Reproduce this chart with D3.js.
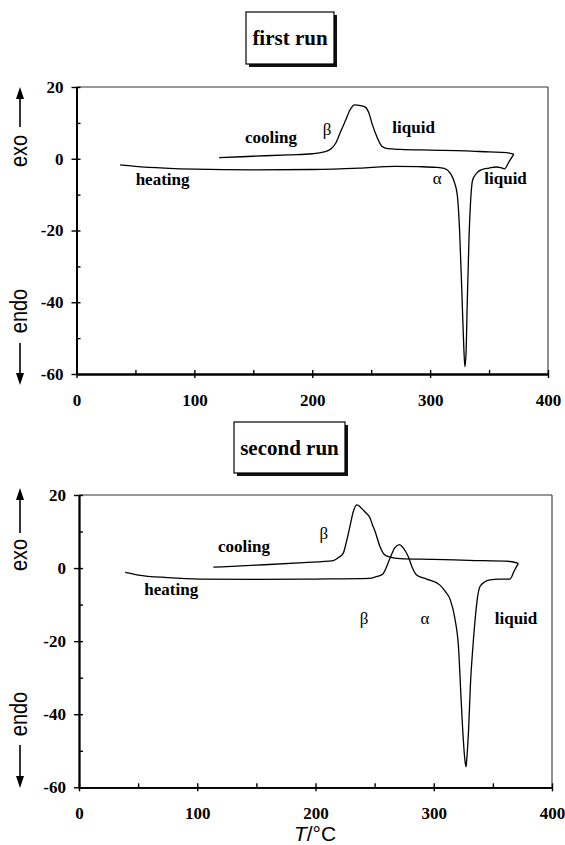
<!DOCTYPE html>
<html><head><meta charset="utf-8">
<script src="https://cdn.jsdelivr.net/npm/d3@7"></script>
<style>
body{margin:0;background:#fff;}
svg{display:block;}
.tick text{font-family:"Liberation Serif","Times New Roman",serif;font-weight:bold;font-size:17px;fill:#000;}
</style></head>
<body><svg id="c" width="565" height="845"></svg>
<script>
// ---------- data ----------
const xMajorTicks = [0, 100, 200, 300, 400];
const xMinorTicks = [50, 150, 250, 350];
const yMajorTicks = [20, 0, -20, -40, -60];
const yMinorTicks = [10, -10, -30, -50];
const panelTitles = ["first run", "second run"];

// first run: [T (°C), heat flow]
const run1Heating = [[37,-1.7],[50,-2.1],[75,-2.6],[100,-2.9],[150,-3.1],[200,-3.0],[240,-2.6],[270,-2.1],[290,-2.2],[305,-2.4],[312,-2.7],[317,-4],[320,-6],[323,-10],[325,-20],[327,-38],[328.5,-52],[329.5,-58],[330.5,-54],[331.5,-40],[333,-22],[334.5,-11],[336,-6],[339.5,-4],[344,-3],[350,-2.6],[356,-2.3],[360,-2.5],[363,-2.8],[367,-0.8],[371,1.3]];
const run1Cooling = [[121,0.3],[150,0.7],[180,1.1],[200,1.4],[210,1.9],[216,2.8],[220,4.4],[224,7.5],[228,10.5],[232,13.6],[236,15],[241,14.8],[245,14.4],[248,12.8],[251,9.5],[255,6],[259,3.5],[264,2.8],[275,2.6],[300,2.4],[330,2.2],[350,1.9],[365,1.7],[371,1.3]];

// second run
const run2Heating = [[39,-1.2],[50,-1.9],[75,-2.6],[102,-3.0],[150,-3.1],[200,-3.0],[246,-2.8],[252,-2.3],[257,-1.6],[263,2.7],[267,5.5],[271,6.4],[274,5.6],[278.5,3.1],[282,0],[285.5,-1.9],[294,-3.0],[305,-4.6],[310,-6.5],[314,-8.7],[318,-14],[321,-22],[323,-35],[325,-47],[326.5,-53],[327.3,-54.4],[328,-52],[329.5,-44],[331,-32],[333,-22],[335,-14],[337,-8],[339,-5.1],[343,-3.8],[347.6,-3.2],[355,-3.0],[364.5,-3.0],[368,-0.8],[371.5,1.3]];
const run2Cooling = [[113.6,0.24],[150,0.8],[190,1.5],[215,2.05],[220,3.0],[223.5,4.1],[226,7],[229,11.2],[232,15.5],[235,17.3],[237.6,16.8],[240,16],[243,15],[246,13.8],[248,12],[250.4,10],[254.5,5.9],[258,3.8],[263,3.0],[271.5,2.6],[300,2.4],[330,2.1],[364.5,1.8],[371.5,1.3]];

// annotations: [text, T, value (baseline), bold]
const run1Labels = [["cooling",165,4.4,true],["β",212.5,6.6,false],["liquid",286,7.2,true],["heating",73,-7.2,true],["α",306,-7,false],["liquid",364,-7,true]];
const run2Labels = [["cooling",139.5,4.5,true],["β",207,8,false],["heating",78,-7.5,true],["β",241,-15.4,false],["α",292.6,-15.4,false],["liquid",369.6,-15.4,true]];

// ---------- drawing ----------
const svg = d3.select("#c");

function drawArrow(g, x, y1, y2) {
  const dir = y2 < y1 ? -1 : 1;
  g.append("line").attr("x1", x).attr("x2", x).attr("y1", y1).attr("y2", y2 - dir*8)
    .attr("stroke", "#000").attr("stroke-width", 1.6);
  g.append("path").attr("d", `M${x},${y2} L${x-4},${y2-dir*12} L${x+4},${y2-dir*12} Z`).attr("fill", "#000");
}

function panel(cfg) {
  const x = d3.scaleLinear().domain([0, 400]).range([cfg.x0, cfg.x1]);
  const y = d3.scaleLinear().domain([-60, 20]).range([cfg.yb, cfg.yt]);
  const g = svg.append("g");

  // title box with shadow
  const b = cfg.box;
  g.append("rect").attr("x", b[0]+3).attr("y", b[1]+3).attr("width", b[2]).attr("height", b[3]).attr("fill", "#111");
  g.append("rect").attr("x", b[0]).attr("y", b[1]).attr("width", b[2]).attr("height", b[3])
    .attr("fill", "#fff").attr("stroke", "#000").attr("stroke-width", 1.2);
  g.append("text").attr("x", b[0]+b[2]/2).attr("y", b[1]+b[3]/2+7).attr("text-anchor", "middle")
    .attr("font-family", "Liberation Serif, Times New Roman, serif").attr("font-weight", "bold")
    .attr("font-size", 21).text(cfg.title);

  // frame top/right
  g.append("line").attr("x1", x(0)).attr("x2", x(400)).attr("y1", y(20)).attr("y2", y(20)).attr("stroke", "#333").attr("stroke-width", 1.1);
  g.append("line").attr("x1", x(400)).attr("x2", x(400)).attr("y1", y(20)).attr("y2", y(-60)).attr("stroke", "#333").attr("stroke-width", 1.1);

  const fmt = d => String(d);
  const ya = g.append("g").attr("transform", `translate(${x(0)},0)`)
    .call(d3.axisLeft(y).tickValues(yMajorTicks).tickSizeInner(5).tickSizeOuter(0).tickPadding(8).tickFormat(fmt));
  const yb = g.append("g").attr("transform", `translate(${x(0)},0)`)
    .call(d3.axisRight(y).tickValues(yMajorTicks.concat(yMinorTicks)).tickSizeInner(4).tickSizeOuter(0).tickFormat(""));
  const xa = g.append("g").attr("transform", `translate(0,${y(-60)})`)
    .call(d3.axisBottom(x).tickValues(xMajorTicks).tickSizeInner(4).tickSizeOuter(0).tickPadding(16).tickFormat(fmt));
  const xb = g.append("g").attr("transform", `translate(0,${y(-60)})`)
    .call(d3.axisTop(x).tickValues(xMajorTicks.concat(xMinorTicks)).tickSizeInner(4).tickSizeOuter(0).tickFormat(""));
  [ya, yb, xa, xb].forEach(a => {
    a.select(".domain").attr("stroke", "#000").attr("stroke-width", 1.8);
    a.selectAll(".tick line").attr("stroke", "#000").attr("stroke-width", 1.4);
  });

  const line = d3.line().x(d => x(d[0])).y(d => y(d[1])).curve(d3.curveMonotoneX);
  [cfg.heating, cfg.cooling].forEach(s => {
    g.append("path").datum(s).attr("d", line).attr("fill", "none").attr("stroke", "#000").attr("stroke-width", 1.3);
  });

  cfg.labels.forEach(l => {
    g.append("text").attr("x", x(l[1])).attr("y", y(l[2])).attr("text-anchor", "middle")
      .attr("font-family", "Liberation Serif, Times New Roman, serif")
      .attr("font-weight", l[3] ? "bold" : "normal").attr("font-size", 17).text(l[0]);
  });

  const lx = 20;
  const lab = (t, cy) => g.append("text").attr("transform", `translate(${lx+7},${cy}) rotate(-90) scale(0.83,1)`)
    .attr("text-anchor", "middle").attr("font-family", "Liberation Sans, Arial, sans-serif").attr("font-size", 24).text(t);
  lab("exo", cfg.exoY);
  lab("endo", cfg.endoY);
  drawArrow(g, lx, cfg.upArrow[0], cfg.upArrow[1]);
  drawArrow(g, lx, cfg.downArrow[0], cfg.downArrow[1]);
}

panel({x0: 76.5, x1: 548, yt: 87, yb: 374, box: [246, 12, 88, 52], title: panelTitles[0],
  heating: run1Heating, cooling: run1Cooling, labels: run1Labels,
  exoY: 151, endoY: 311, upArrow: [127, 87], downArrow: [343, 385]});
panel({x0: 79, x1: 552, yt: 495, yb: 787.3, box: [234, 422, 111, 51], title: panelTitles[1],
  heating: run2Heating, cooling: run2Cooling, labels: run2Labels,
  exoY: 555, endoY: 714, upArrow: [533, 488], downArrow: [745, 788]});

svg.append("text").attr("x", 315).attr("y", 841).attr("text-anchor", "middle")
  .attr("font-family", "Liberation Sans, Arial, sans-serif").attr("font-size", 21)
  .html('<tspan font-style="italic">T</tspan>/°C');
</script>
</body></html>
